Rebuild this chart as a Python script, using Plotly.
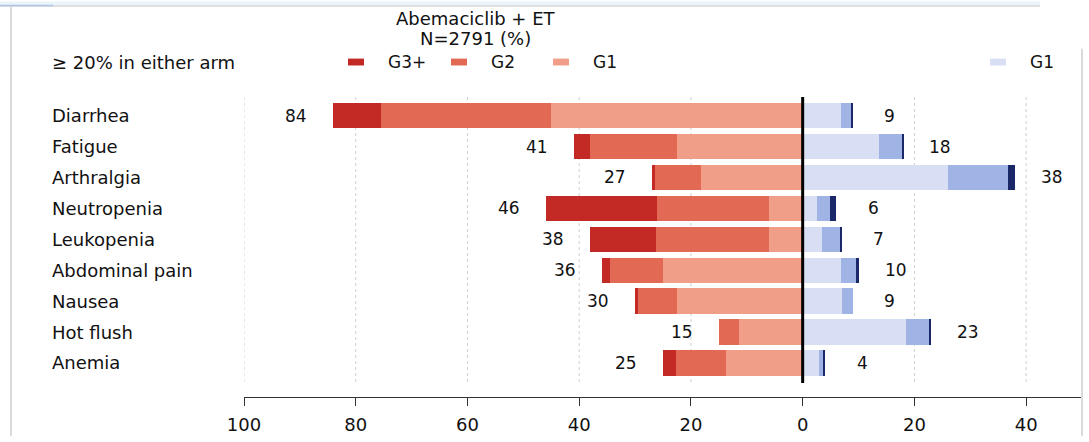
import plotly.graph_objects as go

# Adverse events (>= 20% in either arm), percentage of patients by grade
categories = ["Diarrhea", "Fatigue", "Arthralgia", "Neutropenia", "Leukopenia",
              "Abdominal pain", "Nausea", "Hot flush", "Anemia"]

# Abemaciclib + ET arm (drawn to the left)
abema_g1 = [45.0, 22.5, 18.2, 6.0, 6.0, 25.0, 22.5, 11.4, 13.8]
abema_g2 = [30.5, 15.5, 8.3, 20.0, 20.3, 9.5, 6.9, 3.6, 8.8]
abema_g3 = [8.5, 3.0, 0.5, 20.0, 11.7, 1.5, 0.6, 0.0, 2.4]

# ET alone arm (drawn to the right)
et_g1 = [6.8, 13.6, 26.0, 2.5, 3.5, 6.9, 7.1, 18.5, 2.9]
et_g2 = [1.9, 4.2, 10.8, 2.4, 3.1, 2.8, 1.9, 4.2, 0.7]
et_g3 = [0.3, 0.2, 1.2, 1.1, 0.4, 0.3, 0.0, 0.3, 0.4]

tick_values = [-100, -80, -60, -40, -20, 0, 20, 40]
tick_labels = ["100", "80", "60", "40", "20", "0", "20", "40"]

title_lines = ["Abemaciclib + ET", "N=2791 (%)"]
header_text = "\u2265 20% in either arm"

RED3, RED2, RED1 = "#C42A25", "#E26A55", "#F09E88"
BLUE1, BLUE2, BLUE3 = "#D8DFF5", "#9FB3E4", "#1A2869"
FONT = "DejaVu Sans"

W, H = 1089, 442
ML, MR, MT, MB = 244, 7, 95, 40
PW, PH = W - ML - MR, H - MT - MB


def px(x):
    return (x - ML) / PW


def py(y):
    return (H - MB - y) / PH


rows = list(range(len(categories)))
fig = go.Figure()

for vals, col, name in [(abema_g1, RED1, "G1"), (abema_g2, RED2, "G2"), (abema_g3, RED3, "G3+")]:
    fig.add_trace(go.Bar(y=rows, x=[-v for v in vals], orientation="h", name=name,
                         marker=dict(color=col, line=dict(width=0)), width=0.82,
                         showlegend=False))
for vals, col, name in [(et_g1, BLUE1, "G1"), (et_g2, BLUE2, "G2"), (et_g3, BLUE3, "G3+")]:
    fig.add_trace(go.Bar(y=rows, x=vals, orientation="h", name=name,
                         marker=dict(color=col, line=dict(width=0)), width=0.82,
                         showlegend=False))

shapes = []
# dotted vertical guides at each tick
for tv in tick_values:
    if tv == 0:
        continue
    shapes.append(dict(type="line", xref="x", yref="y", x0=tv, x1=tv, y0=-0.6, y1=8.65,
                       line=dict(color="#CFCFCF", width=1, dash="dot"), layer="below"))
# zero divider
shapes.append(dict(type="line", xref="x", yref="y", x0=0, x1=0, y0=-0.6, y1=8.65,
                   line=dict(color="black", width=3), layer="above"))

# legend keys
legend_items = [(348, RED3, "G3+"), (451, RED2, "G2"), (553, RED1, "G1"), (990, BLUE1, "G1")]
annotations = []
for x0, col, lab in legend_items:
    shapes.append(dict(type="rect", xref="paper", yref="paper",
                       x0=px(x0), x1=px(x0 + 16), y0=py(65), y1=py(58),
                       fillcolor=col, line=dict(width=0)))
    annotations.append(dict(text=lab, xref="paper", yref="paper", x=px(x0 + 38), y=py(61.5),
                            xanchor="left", yanchor="middle", showarrow=False,
                            font=dict(family=FONT, size=17, color="#111")))

# window frame lines
shapes += [
    dict(type="rect", xref="paper", yref="paper", x0=px(0), x1=px(1040), y0=py(0), y1=py(4),
         fillcolor="#EAF4FB", line=dict(width=0)),
    dict(type="line", xref="paper", yref="paper", x0=px(0), x1=px(1040), y0=py(4.5), y1=py(4.5),
         line=dict(color="#D6D6D6", width=1.5)),
    dict(type="line", xref="paper", yref="paper", x0=px(0), x1=px(53), y0=py(4), y1=py(4),
         line=dict(color="#AFC3E6", width=1.5)),
    dict(type="line", xref="paper", yref="paper", x0=px(11), x1=px(11), y0=py(5), y1=py(442),
         line=dict(color="#DADADA", width=2)),
    dict(type="line", xref="paper", yref="paper", x0=px(1082), x1=px(1082), y0=py(48), y1=py(442),
         line=dict(color="#DADADA", width=2)),
]

annotations.append(dict(text=header_text, xref="paper", yref="paper", x=px(50), y=py(61.5),
                        xanchor="left", yanchor="middle", showarrow=False,
                        font=dict(family=FONT, size=18, color="#111")))
for line, yy in zip(title_lines, [17, 38]):
    annotations.append(dict(text=line, xref="paper", yref="paper", x=px(475), y=py(yy),
                            xanchor="center", yanchor="middle", showarrow=False,
                            font=dict(family=FONT, size=18, color="#111")))

# category names
for r, cat in zip(rows, categories):
    annotations.append(dict(text=cat, xref="paper", yref="y", x=px(50), y=r,
                            xanchor="left", yanchor="middle", showarrow=False,
                            font=dict(family=FONT, size=18, color="#111")))

# totals beside each bar
for r in rows:
    lt = abema_g1[r] + abema_g2[r] + abema_g3[r]
    rt = et_g1[r] + et_g2[r] + et_g3[r]
    annotations.append(dict(text=f"{lt:.0f}", x=-lt, y=r, xref="x", yref="y", xshift=-37,
                            xanchor="center", yanchor="middle", showarrow=False,
                            font=dict(family=FONT, size=17, color="#111")))
    annotations.append(dict(text=f"{rt:.0f}", x=rt, y=r, xref="x", yref="y", xshift=37,
                            xanchor="center", yanchor="middle", showarrow=False,
                            font=dict(family=FONT, size=17, color="#111")))

fig.update_layout(
    width=W, height=H,
    margin=dict(l=ML, r=MR, t=MT, b=MB, pad=0),
    barmode="relative", bargap=0,
    plot_bgcolor="white", paper_bgcolor="white",
    shapes=shapes, annotations=annotations,
    showlegend=False,
    xaxis=dict(range=[-100, 50], tickvals=tick_values, ticktext=tick_labels,
               showgrid=False, zeroline=False, showline=True, linecolor="#333", linewidth=1.3,
               ticks="outside", ticklen=8, tickwidth=1.3, tickcolor="#333",
               ticklabelstandoff=3,
               tickfont=dict(family=FONT, size=18, color="#111"), fixedrange=True),
    yaxis=dict(range=[9.1, -0.667], showticklabels=False, showgrid=False, zeroline=False,
               showline=False, ticks="", fixedrange=True),
)

fig.write_html("out.html")
